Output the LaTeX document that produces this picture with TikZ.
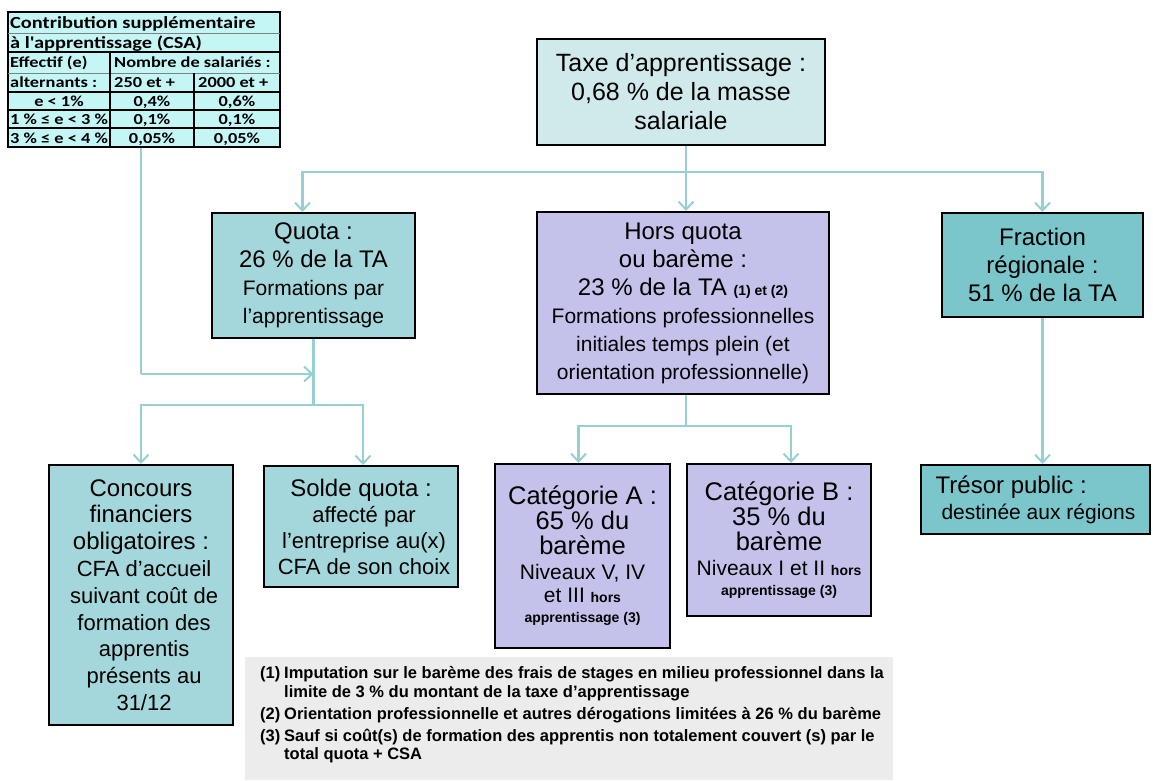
\documentclass[tikz,border=0pt]{standalone}
\usepackage{fontspec}
\setmainfont{Liberation Sans}
\newfontfamily\csafont[FakeStretch=1.2]{Carlito}
\usetikzlibrary{arrows.meta}
\definecolor{taxefill}{RGB}{208,234,236}
\definecolor{quotafill}{RGB}{164,215,219}
\definecolor{fracfill}{RGB}{122,198,203}
\definecolor{lavfill}{RGB}{196,194,234}
\definecolor{linec}{RGB}{150,208,210}
\definecolor{csafill}{RGB}{196,246,246}
\definecolor{footgray}{RGB}{236,236,236}
\newcommand\fsz[2]{\fontsize{#1}{#2}\selectfont}
\newcommand\Sm{\fsz{21}{25}}
\newcommand\Tb{\fsz{14}{17}\bfseries}
\tikzset{
  box/.style={draw=black, line width=2pt, inner sep=0pt, align=center, font=\fsz{24}{28}},
  conn/.style={draw=linec, line width=2.4pt},
  arr/.style={conn, -{Straight Barb[length=8pt,width=15pt,line width=2pt]}},
  csatxt/.style={inner sep=0pt, font=\csafont\bfseries\fsz{15.3}{17}},
  csatitle/.style={inner sep=0pt, font=\csafont\bfseries\fsz{17}{19}, anchor=base west},
  fn/.style={inner sep=0pt, font=\fsz{16.5}{19}\bfseries, anchor=base west}
}
\begin{document}
\begin{tikzpicture}[x=1pt,y=-1pt]
\useasboundingbox (0,0) rectangle (1153,780);
% CSA table
\node[draw=black, line width=1.6pt, fill=csafill, minimum width=272pt, minimum height=135pt, inner sep=0pt] (csa) at (144,79.5) {};
\draw[gray, line width=0.8pt] (8,33) -- (280,33);
\draw[black, line width=1.2pt] (8,52) -- (280,52);
\draw[gray, line width=0.8pt] (8,73) -- (280,73);
\draw[black, line width=1.2pt] (8,92) -- (280,92);
\draw[black, line width=1.2pt] (8,110) -- (280,110);
\draw[black, line width=1.2pt] (8,128) -- (280,128);
\draw[black, line width=1.2pt] (110,52) -- (110,147);
\draw[black, line width=1.2pt] (194,73) -- (194,147);
\node[csatitle] (t1) at (10,28) {Contribution supplémentaire};
\node[csatitle] (t2) at (10,48) {à l'apprentissage (CSA)};
\node[csatxt, anchor=base west] (t3) at (10,67) {Effectif (e)};
\node[csatxt, anchor=base west] (t4) at (114,67) {Nombre de salariés :};
\node[csatxt, anchor=base west] (t5) at (10,87) {alternants :};
\node[csatxt, anchor=base west] (t6) at (114,87) {250 et +};
\node[csatxt, anchor=base west] (t7) at (198,87) {2000 et +};
\node[csatxt, anchor=base] (t8) at (59,106) {e < 1\%};
\node[csatxt, anchor=base] (t9) at (152,106) {0,4\%};
\node[csatxt, anchor=base] (t10) at (237,106) {0,6\%};
\node[csatxt, anchor=base] (t11) at (59,124) {1 \% ≤ e < 3 \%};
\node[csatxt, anchor=base] (t12) at (152,124) {0,1\%};
\node[csatxt, anchor=base] (t13) at (237,124) {0,1\%};
\node[csatxt, anchor=base] (t14) at (59,143) {3 \% ≤ e < 4 \%};
\node[csatxt, anchor=base] (t15) at (152,143) {0,05\%};
\node[csatxt, anchor=base] (t16) at (237,143) {0,05\%};

% boxes
\node[box, fill=taxefill, minimum width=288pt, minimum height=106pt, font=\fsz{25}{29}] (taxe) at (681,92)
  {Taxe d’apprentissage :\\0,68 \% de la masse\\salariale};
\node[box, fill=quotafill, minimum width=203pt, minimum height=125pt] (quota) at (313.5,275.5)
  {Quota :\\26 \% de la TA\\{\Sm Formations par}\\{\Sm l’apprentissage}};
\node[box, fill=lavfill, minimum width=292pt, minimum height=182pt] (hors) at (683,303)
  {Hors quota\\ou barème :\\23 \% de la TA {\Tb (1) et (2)}\\{\Sm Formations professionnelles}\\{\Sm initiales temps plein (et}\\{\Sm orientation professionnelle)}};
\node[box, fill=fracfill, minimum width=201pt, minimum height=104pt] (frac) at (1042.5,265)
  {Fraction\\régionale :\\51 \% de la TA};
\node[box, fill=quotafill, minimum width=184pt, minimum height=260pt, font=\fsz{24}{26.8}] (conc) at (141,595)
  {Concours\\financiers\\obligatoires :\\{\fsz{22}{26} CFA d’accueil}\\{\fsz{22}{26} suivant coût de}\\{\fsz{22}{26} formation des}\\{\fsz{22}{26} apprentis}\\{\fsz{22}{26} présents au}\\{\fsz{22}{26} 31/12}};
\node[box, fill=quotafill, minimum width=194pt, minimum height=121pt, font=\fsz{24}{26}] (solde) at (361,526.5)
  {Solde quota :\\{\fsz{22}{26} affecté par}\\{\fsz{22}{26} l’entreprise au(x)}\\{\fsz{22}{26} CFA de son choix}};
\node[box, fill=lavfill, minimum width=175pt, minimum height=184pt, font=\fsz{25.5}{25}] (catA) at (582.5,556)
  {Catégorie A :\\65 \% du\\barème\\{\Sm Niveaux V, IV}\\[-2pt]{\Sm et III {\Tb hors}}\\[-5pt]{\Tb apprentissage (3)}};
\node[box, fill=lavfill, minimum width=184pt, minimum height=152pt, font=\fsz{25.5}{25}] (catB) at (779,540)
  {Catégorie B :\\35 \% du\\barème\\{\Sm Niveaux I et II {\Tb hors}}\\[-5pt]{\Tb apprentissage (3)}};
\node[box, fill=fracfill, minimum width=229pt, minimum height=69pt, align=left, font=\fsz{24}{26}] (tresor) at (1035.5,499.5)
  {Trésor public :\\{\fsz{21}{26} destinée aux régions}};

% connectors
\coordinate (j1) at (686,172);
\draw[conn] (taxe.south -| j1) -- (j1);
\draw[arr] (j1) -| ([xshift=-11pt]quota.north);
\draw[arr] (j1) -- (j1 |- hors.north);
\draw[arr] (j1) -| (frac.north);

\coordinate (c1) at (141,374);
\draw[conn] (csa.south -| c1) -- (c1);
\draw[arr] (c1) -- (quota.south |- c1);
\draw[conn] (quota.south) -- (quota.south |- 0,405) coordinate (j2);
\draw[arr] (j2) -| (conc.north);
\draw[arr] (j2) -| ([xshift=2pt]solde.north);

\coordinate (j4) at (686,426);
\draw[conn] (hors.south -| j4) -- (j4);
\draw[arr] (j4) -| ([xshift=-4pt]catA.north);
\draw[arr] (j4) -| ([xshift=12pt]catB.north);

\draw[arr] (frac.south) -- (tresor.north -| frac.south);

% footnotes
\fill[footgray] (245,657) rectangle (893,780);
\node[fn] (f1) at (260,678) {(1)};
\node[fn] (f1a) at (284,678) {Imputation sur le barème des frais de stages en milieu professionnel dans la};
\node[fn] (f1b) at (284,697) {limite de 3 \% du montant de la taxe d'apprentissage};
\node[fn] (f2) at (260,719) {(2)};
\node[fn] (f2a) at (284,719) {Orientation professionnelle et autres dérogations limitées à 26 \% du barème};
\node[fn] (f3) at (260,741) {(3)};
\node[fn] (f3a) at (284,741) {Sauf si coût(s) de formation des apprentis non totalement couvert (s) par le};
\node[fn] (f3b) at (284,759) {total quota + CSA};
\end{tikzpicture}
\end{document}
